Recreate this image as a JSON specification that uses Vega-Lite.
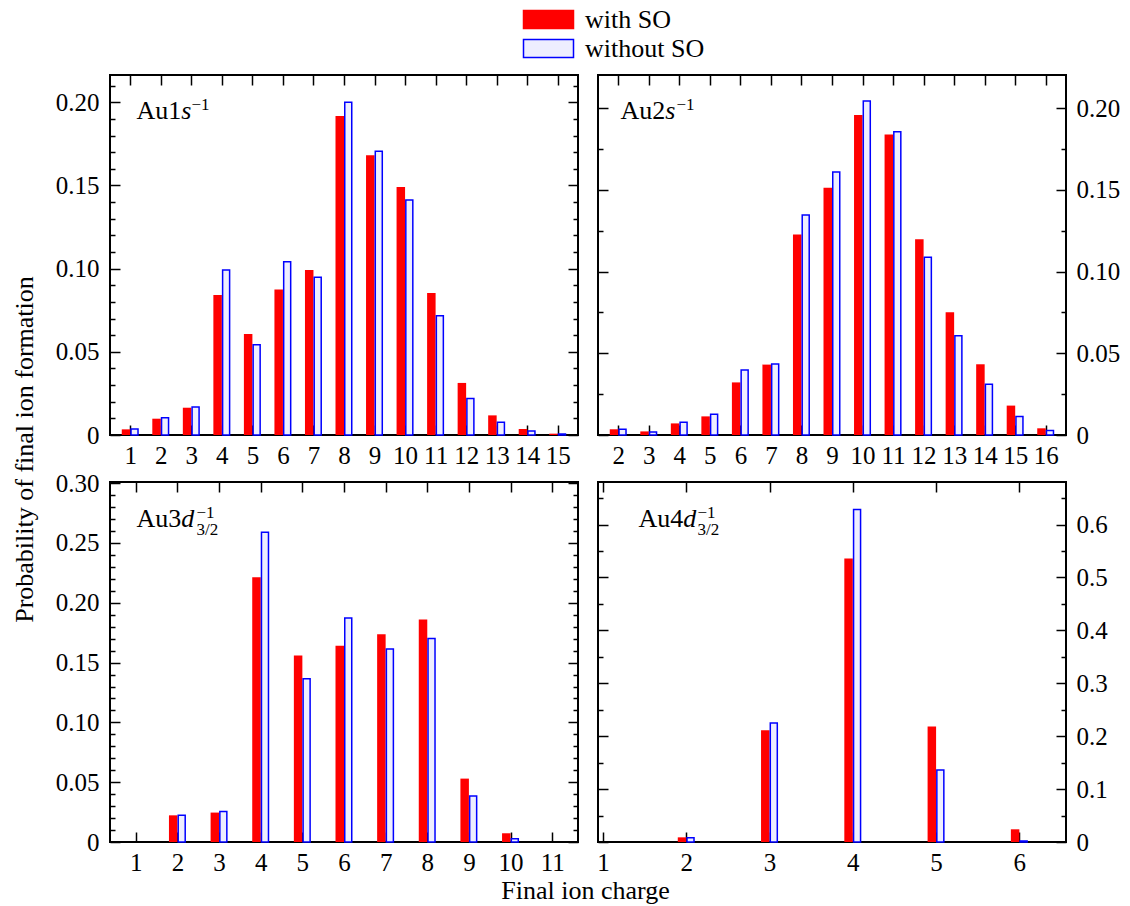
{
  "$schema": "https://vega.github.io/schema/vega-lite/v6.json",
  "padding": {"left": 10, "top": 6, "right": 5, "bottom": 5},
  "background": "white",
  "datasets": {
    "au1s": [
      {"charge": 1, "series": "with SO", "p": 0.0034}, {"charge": 2, "series": "with SO", "p": 0.0098}, {"charge": 3, "series": "with SO", "p": 0.0164},
      {"charge": 4, "series": "with SO", "p": 0.0842}, {"charge": 5, "series": "with SO", "p": 0.0607}, {"charge": 6, "series": "with SO", "p": 0.0874},
      {"charge": 7, "series": "with SO", "p": 0.0992}, {"charge": 8, "series": "with SO", "p": 0.1918}, {"charge": 9, "series": "with SO", "p": 0.1681},
      {"charge": 10, "series": "with SO", "p": 0.1491}, {"charge": 11, "series": "with SO", "p": 0.0854}, {"charge": 12, "series": "with SO", "p": 0.0313},
      {"charge": 13, "series": "with SO", "p": 0.0118}, {"charge": 14, "series": "with SO", "p": 0.0036}, {"charge": 15, "series": "with SO", "p": 0.0008},
      {"charge": 1, "series": "without SO", "p": 0.0036}, {"charge": 2, "series": "without SO", "p": 0.0104}, {"charge": 3, "series": "without SO", "p": 0.0168},
      {"charge": 4, "series": "without SO", "p": 0.0992}, {"charge": 5, "series": "without SO", "p": 0.0543}, {"charge": 6, "series": "without SO", "p": 0.1042},
      {"charge": 7, "series": "without SO", "p": 0.0948}, {"charge": 8, "series": "without SO", "p": 0.2000}, {"charge": 9, "series": "without SO", "p": 0.1705},
      {"charge": 10, "series": "without SO", "p": 0.1413}, {"charge": 11, "series": "without SO", "p": 0.0717}, {"charge": 12, "series": "without SO", "p": 0.0220},
      {"charge": 13, "series": "without SO", "p": 0.0076}, {"charge": 14, "series": "without SO", "p": 0.0024}, {"charge": 15, "series": "without SO", "p": 0.0006}
    ],
    "au2s": [
      {"charge": 2, "series": "with SO", "p": 0.0035}, {"charge": 3, "series": "with SO", "p": 0.0022}, {"charge": 4, "series": "with SO", "p": 0.0071},
      {"charge": 5, "series": "with SO", "p": 0.0114}, {"charge": 6, "series": "with SO", "p": 0.0322}, {"charge": 7, "series": "with SO", "p": 0.0431},
      {"charge": 8, "series": "with SO", "p": 0.1227}, {"charge": 9, "series": "with SO", "p": 0.1514}, {"charge": 10, "series": "with SO", "p": 0.1959},
      {"charge": 11, "series": "with SO", "p": 0.1839}, {"charge": 12, "series": "with SO", "p": 0.1198}, {"charge": 13, "series": "with SO", "p": 0.0751},
      {"charge": 14, "series": "with SO", "p": 0.0433}, {"charge": 15, "series": "with SO", "p": 0.0180}, {"charge": 16, "series": "with SO", "p": 0.0041},
      {"charge": 2, "series": "without SO", "p": 0.0035}, {"charge": 3, "series": "without SO", "p": 0.0018}, {"charge": 4, "series": "without SO", "p": 0.0078},
      {"charge": 5, "series": "without SO", "p": 0.0127}, {"charge": 6, "series": "without SO", "p": 0.0398}, {"charge": 7, "series": "without SO", "p": 0.0435},
      {"charge": 8, "series": "without SO", "p": 0.1347}, {"charge": 9, "series": "without SO", "p": 0.1610}, {"charge": 10, "series": "without SO", "p": 0.2045},
      {"charge": 11, "series": "without SO", "p": 0.1857}, {"charge": 12, "series": "without SO", "p": 0.1088}, {"charge": 13, "series": "without SO", "p": 0.0608},
      {"charge": 14, "series": "without SO", "p": 0.0310}, {"charge": 15, "series": "without SO", "p": 0.0114}, {"charge": 16, "series": "without SO", "p": 0.0027}
    ],
    "au3d": [
      {"charge": 2, "series": "with SO", "p": 0.0223}, {"charge": 3, "series": "with SO", "p": 0.0246}, {"charge": 4, "series": "with SO", "p": 0.2213},
      {"charge": 5, "series": "with SO", "p": 0.1560}, {"charge": 6, "series": "with SO", "p": 0.1641}, {"charge": 7, "series": "with SO", "p": 0.1738},
      {"charge": 8, "series": "with SO", "p": 0.1861}, {"charge": 9, "series": "with SO", "p": 0.0530}, {"charge": 10, "series": "with SO", "p": 0.0073},
      {"charge": 2, "series": "without SO", "p": 0.0223}, {"charge": 3, "series": "without SO", "p": 0.0254}, {"charge": 4, "series": "without SO", "p": 0.2589},
      {"charge": 5, "series": "without SO", "p": 0.1364}, {"charge": 6, "series": "without SO", "p": 0.1872}, {"charge": 7, "series": "without SO", "p": 0.1613},
      {"charge": 8, "series": "without SO", "p": 0.1702}, {"charge": 9, "series": "without SO", "p": 0.0385}, {"charge": 10, "series": "without SO", "p": 0.0028}
    ],
    "au4d": [
      {"charge": 2, "series": "with SO", "p": 0.0088}, {"charge": 3, "series": "with SO", "p": 0.2111}, {"charge": 4, "series": "with SO", "p": 0.5357},
      {"charge": 5, "series": "with SO", "p": 0.2181}, {"charge": 6, "series": "with SO", "p": 0.0240},
      {"charge": 2, "series": "without SO", "p": 0.0082}, {"charge": 3, "series": "without SO", "p": 0.2250}, {"charge": 4, "series": "without SO", "p": 0.6283},
      {"charge": 5, "series": "without SO", "p": 0.1361}, {"charge": 6, "series": "without SO", "p": 0.0019}
    ]
  },
  "config": {
    "font": "Liberation Serif",
    "view": {"stroke": "black", "strokeWidth": 2},
    "axis": {
      "domain": false, "grid": false, "zindex": 1,
      "labelFont": "Liberation Serif", "labelFontSize": 25, "labelColor": "black",
      "labelFlush": false, "labelOverlap": false,
      "titleFont": "Liberation Serif", "titleFontSize": 26, "titleFontWeight": "normal", "titleColor": "black",
      "titleAlign": "left", "titleBaseline": "alphabetic",
      "tickColor": "black", "tickWidth": 1.5
    },
    "legend": {
      "title": null, "orient": "none", "legendX": 425, "legendY": -69, "direction": "vertical",
      "symbolType": "M-2,-0.72H2V0.72H-2Z", "symbolSize": 625, "symbolStrokeWidth": 1.5,
      "labelFont": "Liberation Serif", "labelFontSize": 26, "labelColor": "black", "labelOffset": 23,
      "rowPadding": 2, "padding": 0
    }
  },
  "columns": 2,
  "spacing": {"row": 47, "column": 20},
  "bounds": "flush",
  "resolve": {"scale": {"x": "independent", "y": "independent", "fill": "shared", "stroke": "shared"}},
  "concat": [
    {
      "width": 468, "height": 360,
      "data": {"name": "au1s"},
      "resolve": {"axis": {"x": "independent", "y": "independent"}},
      "layer": [
        {
          "transform": [{"filter": "datum.series == 'with SO'"}],
          "mark": {"type": "bar", "orient": "vertical", "width": 8.5, "xOffset": -4.25, "strokeWidth": 0},
          "encoding": {
            "x": {"field": "charge", "type": "quantitative", "scale": {"domain": [0.5, 15.5], "nice": false, "zero": false},
              "axis": {"orient": "bottom", "values": [1,2,3,4,5,6,7,8,9,10,11,12,13,14,15], "format": "d", "tickSize": -10, "labelPadding": 18,
                "title": "Au1", "titleAngle": 0, "titleX": 26, "titleY": -317}},
            "y": {"field": "p", "type": "quantitative", "scale": {"domain": [0, 0.2164], "nice": false},
              "axis": {"orient": "left", "values": [0,0.01,0.02,0.03,0.04,0.05,0.06,0.07,0.08,0.09,0.1,0.11,0.12,0.13,0.14,0.15,0.16,0.17,0.18,0.19,0.2,0.21],
                "labelExpr": "round(datum.value*1000) % 50 == 0 ? (datum.value == 0 ? '0' : format(datum.value, '.2f')) : ''",
                "tickSize": {"condition": {"test": "round(datum.value*1000) % 50 == 0", "value": -10}, "value": -5}, "labelPadding": 21,
                "title": "Probability of final ion formation", "titleAngle": 270, "titleAlign": "center", "titleBaseline": "middle", "titleX": -86, "titleY": 374}},
            "fill": {"field": "series", "type": "nominal", "scale": {"domain": ["with SO", "without SO"], "range": ["#ff0000", "#eeeeff"]}},
            "stroke": {"field": "series", "type": "nominal", "scale": {"domain": ["with SO", "without SO"], "range": ["#ff0000", "#0000ff"]}}
          }
        },
        {
          "transform": [{"filter": "datum.series == 'without SO'"}],
          "mark": {"type": "bar", "orient": "vertical", "width": 7, "xOffset": 4.25, "strokeWidth": 1.5},
          "encoding": {
            "x": {"field": "charge", "type": "quantitative",
              "axis": {"orient": "top", "values": [1,2,3,4,5,6,7,8,9,10,11,12,13,14,15], "labels": false, "tickSize": -10,
                "title": "s", "titleAngle": 0, "titleFontStyle": "italic", "titleX": 70.8, "titleY": 43}},
            "y": {"field": "p", "type": "quantitative",
              "axis": {"orient": "right", "values": [0,0.01,0.02,0.03,0.04,0.05,0.06,0.07,0.08,0.09,0.1,0.11,0.12,0.13,0.14,0.15,0.16,0.17,0.18,0.19,0.2,0.21], "labels": false,
                "tickSize": {"condition": {"test": "round(datum.value*1000) % 50 == 0", "value": -10}, "value": -5},
                "title": "−1", "titleAngle": 0, "titleFontSize": 17, "titleX": -387, "titleY": 34}},
            "fill": {"field": "series", "type": "nominal"},
            "stroke": {"field": "series", "type": "nominal"}
          }
        }
      ]
    },
    {
      "width": 468, "height": 360,
      "data": {"name": "au2s"},
      "resolve": {"axis": {"x": "independent", "y": "independent"}},
      "layer": [
        {
          "transform": [{"filter": "datum.series == 'with SO'"}],
          "mark": {"type": "bar", "orient": "vertical", "width": 8.5, "xOffset": -4.25, "strokeWidth": 0},
          "encoding": {
            "x": {"field": "charge", "type": "quantitative", "scale": {"domain": [1.5, 16.5], "nice": false, "zero": false},
              "axis": {"orient": "bottom", "values": [2,3,4,5,6,7,8,9,10,11,12,13,14,15,16], "format": "d", "tickSize": -10, "labelPadding": 18,
                "title": "Au2", "titleAngle": 0, "titleX": 22, "titleY": -317}},
            "y": {"field": "p", "type": "quantitative", "scale": {"domain": [0, 0.2204], "nice": false},
              "axis": {"orient": "right", "values": [0,0.025,0.05,0.075,0.1,0.125,0.15,0.175,0.2],
                "labelExpr": "round(datum.value*1000) % 50 == 0 ? (datum.value == 0 ? '0' : format(datum.value, '.2f')) : ''",
                "tickSize": {"condition": {"test": "round(datum.value*1000) % 50 == 0", "value": -10}, "value": -5}, "labelPadding": 20,
                "title": "Final ion charge", "titleAngle": 0, "titleAlign": "center", "titleX": -481, "titleY": 823}},
            "fill": {"field": "series", "type": "nominal"},
            "stroke": {"field": "series", "type": "nominal"}
          }
        },
        {
          "transform": [{"filter": "datum.series == 'without SO'"}],
          "mark": {"type": "bar", "orient": "vertical", "width": 7, "xOffset": 4.25, "strokeWidth": 1.5},
          "encoding": {
            "x": {"field": "charge", "type": "quantitative",
              "axis": {"orient": "top", "values": [2,3,4,5,6,7,8,9,10,11,12,13,14,15,16], "labels": false, "tickSize": -10,
                "title": "s", "titleAngle": 0, "titleFontStyle": "italic", "titleX": 66.8, "titleY": 43}},
            "y": {"field": "p", "type": "quantitative",
              "axis": {"orient": "left", "values": [0,0.025,0.05,0.075,0.1,0.125,0.15,0.175,0.2], "labels": false,
                "tickSize": {"condition": {"test": "round(datum.value*1000) % 50 == 0", "value": -10}, "value": -5},
                "title": "−1", "titleAngle": 0, "titleFontSize": 17, "titleX": 78, "titleY": 34}},
            "fill": {"field": "series", "type": "nominal"},
            "stroke": {"field": "series", "type": "nominal"}
          }
        }
      ]
    },
    {
      "width": 468, "height": 360,
      "data": {"name": "au3d"},
      "resolve": {"axis": {"x": "independent", "y": "independent"}},
      "layer": [
        {
          "transform": [{"filter": "datum.series == 'with SO'"}],
          "mark": {"type": "bar", "orient": "vertical", "width": 8.5, "xOffset": -4.25, "strokeWidth": 0},
          "encoding": {
            "x": {"field": "charge", "type": "quantitative", "scale": {"domain": [0.5, 11.5], "nice": false, "zero": false},
              "axis": {"orient": "bottom", "values": [1,2,3,4,5,6,7,8,9,10,11], "format": "d", "tickSize": -10, "labelPadding": 18,
                "title": "Au3", "titleAngle": 0, "titleX": 26, "titleY": -316}},
            "y": {"field": "p", "type": "quantitative", "scale": {"domain": [0, 0.301], "nice": false},
              "axis": {"orient": "left", "values": [0,0.01,0.02,0.03,0.04,0.05,0.06,0.07,0.08,0.09,0.1,0.11,0.12,0.13,0.14,0.15,0.16,0.17,0.18,0.19,0.2,0.21,0.22,0.23,0.24,0.25,0.26,0.27,0.28,0.29,0.3],
                "labelExpr": "round(datum.value*1000) % 50 == 0 ? (datum.value == 0 ? '0' : format(datum.value, '.2f')) : ''",
                "tickSize": {"condition": {"test": "round(datum.value*1000) % 50 == 0", "value": -10}, "value": -5}, "labelPadding": 21,
                "title": "−1", "titleAngle": 0, "titleFontSize": 17, "titleX": 86, "titleY": 35}},
            "fill": {"field": "series", "type": "nominal"},
            "stroke": {"field": "series", "type": "nominal"}
          }
        },
        {
          "transform": [{"filter": "datum.series == 'without SO'"}],
          "mark": {"type": "bar", "orient": "vertical", "width": 7, "xOffset": 4.25, "strokeWidth": 1.5},
          "encoding": {
            "x": {"field": "charge", "type": "quantitative",
              "axis": {"orient": "top", "values": [1,2,3,4,5,6,7,8,9,10,11], "labels": false, "tickSize": -10,
                "title": "d", "titleAngle": 0, "titleFontStyle": "italic", "titleX": 70.8, "titleY": 44}},
            "y": {"field": "p", "type": "quantitative",
              "axis": {"orient": "right", "values": [0,0.01,0.02,0.03,0.04,0.05,0.06,0.07,0.08,0.09,0.1,0.11,0.12,0.13,0.14,0.15,0.16,0.17,0.18,0.19,0.2,0.21,0.22,0.23,0.24,0.25,0.26,0.27,0.28,0.29,0.3], "labels": false,
                "tickSize": {"condition": {"test": "round(datum.value*1000) % 50 == 0", "value": -10}, "value": -5},
                "title": "3/2", "titleAngle": 0, "titleFontSize": 17, "titleX": -382, "titleY": 52}},
            "fill": {"field": "series", "type": "nominal"},
            "stroke": {"field": "series", "type": "nominal"}
          }
        }
      ]
    },
    {
      "width": 468, "height": 360,
      "data": {"name": "au4d"},
      "resolve": {"axis": {"x": "independent", "y": "independent"}},
      "layer": [
        {
          "transform": [{"filter": "datum.series == 'with SO'"}],
          "mark": {"type": "bar", "orient": "vertical", "width": 8.5, "xOffset": -4.25, "strokeWidth": 0},
          "encoding": {
            "x": {"field": "charge", "type": "quantitative", "scale": {"domain": [1, 6.5], "nice": false, "zero": false},
              "axis": {"orient": "bottom", "values": [1,2,3,4,5,6], "format": "d", "tickSize": -10, "labelPadding": 18,
                "title": "Au4", "titleAngle": 0, "titleX": 40, "titleY": -316}},
            "y": {"field": "p", "type": "quantitative", "scale": {"domain": [0, 0.6805], "nice": false},
              "axis": {"orient": "right", "values": [0,0.05,0.1,0.15,0.2,0.25,0.3,0.35,0.4,0.45,0.5,0.55,0.6,0.65],
                "labelExpr": "round(datum.value*100) % 10 == 0 ? (datum.value == 0 ? '0' : format(datum.value, '.1f')) : ''",
                "tickSize": {"condition": {"test": "round(datum.value*100) % 10 == 0", "value": -10}, "value": -5}, "labelPadding": 20,
                "title": "−1", "titleAngle": 0, "titleFontSize": 17, "titleX": -369, "titleY": 35}},
            "fill": {"field": "series", "type": "nominal"},
            "stroke": {"field": "series", "type": "nominal"}
          }
        },
        {
          "transform": [{"filter": "datum.series == 'without SO'"}],
          "mark": {"type": "bar", "orient": "vertical", "width": 7, "xOffset": 4.25, "strokeWidth": 1.5},
          "encoding": {
            "x": {"field": "charge", "type": "quantitative",
              "axis": {"orient": "top", "values": [1,2,3,4,5,6], "labels": false, "tickSize": -10,
                "title": "d", "titleAngle": 0, "titleFontStyle": "italic", "titleX": 84.8, "titleY": 44}},
            "y": {"field": "p", "type": "quantitative",
              "axis": {"orient": "left", "values": [0,0.05,0.1,0.15,0.2,0.25,0.3,0.35,0.4,0.45,0.5,0.55,0.6,0.65], "labels": false,
                "tickSize": {"condition": {"test": "round(datum.value*100) % 10 == 0", "value": -10}, "value": -5},
                "title": "3/2", "titleAngle": 0, "titleFontSize": 17, "titleX": 99, "titleY": 52}},
            "fill": {"field": "series", "type": "nominal"},
            "stroke": {"field": "series", "type": "nominal"}
          }
        }
      ]
    }
  ]
}
